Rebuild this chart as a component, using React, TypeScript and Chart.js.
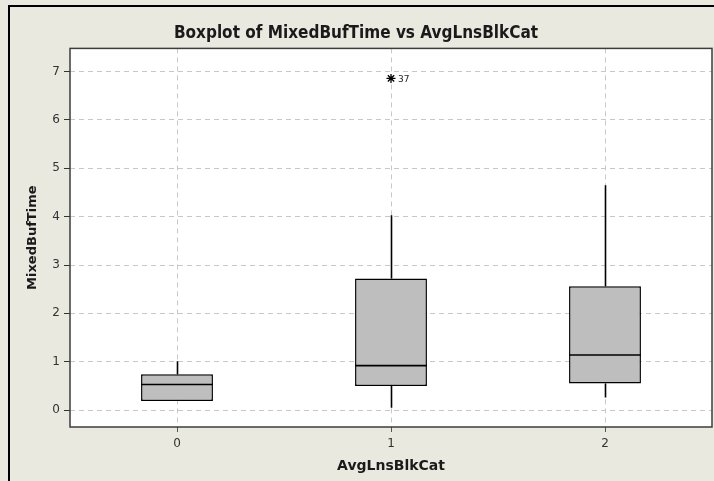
import React, { useEffect, useRef } from "react";
import { Chart, registerables } from "chart.js";

Chart.register(...registerables);

const categories = ["0", "1", "2"];
const q1 = [0.19, 0.5, 0.55];
const median = [0.53, 0.92, 1.14];
const q3 = [0.74, 2.72, 2.56];
const whiskerLow = [0.19, 0.05, 0.26];
const whiskerHigh = [1.01, 4.03, 4.65];
const outliers = [null, 6.86, null];
const outlierLabels = ["", "37", ""];
const yTicks = [0, 1, 2, 3, 4, 5, 6, 7];

const BEIGE = "#E9E9DF";
const FRAME = "#3c3c3c";

const boxPlugin = {
  id: "boxParts",
  beforeDraw(chart: any) {
    const { ctx, chartArea: a } = chart;
    ctx.save();
    ctx.fillStyle = BEIGE;
    ctx.fillRect(0, 0, chart.width, chart.height);
    ctx.fillStyle = "#ffffff";
    ctx.fillRect(a.left, a.top, a.right - a.left, a.bottom - a.top);
    ctx.fillStyle = "#000000";
    ctx.fillRect(8, 5, chart.width - 8, 2);
    ctx.fillRect(8, 5, 2, chart.height - 5);
    ctx.restore();
  },
  beforeDatasetsDraw(chart: any) {
    const { ctx, chartArea: a, scales } = chart;
    const x = scales.x;
    const y = scales.y;
    ctx.save();
    ctx.strokeStyle = FRAME;
    ctx.lineWidth = 1.5;
    ctx.strokeRect(a.left, a.top, a.right - a.left, a.bottom - a.top);
    ctx.strokeStyle = "#000000";
    ctx.lineWidth = 1.6;
    for (let i = 0; i < categories.length; i++) {
      const px = Math.round(x.getPixelForValue(i)) + 0.5;
      ctx.beginPath();
      ctx.moveTo(px, y.getPixelForValue(whiskerLow[i]));
      ctx.lineTo(px, y.getPixelForValue(q1[i]));
      ctx.moveTo(px, y.getPixelForValue(q3[i]));
      ctx.lineTo(px, y.getPixelForValue(whiskerHigh[i]));
      ctx.stroke();
    }
    ctx.restore();
  },
  afterDatasetsDraw(chart: any) {
    const { ctx, scales } = chart;
    const x = scales.x;
    const y = scales.y;
    const meta = chart.getDatasetMeta(0);
    ctx.save();
    ctx.strokeStyle = "#000000";
    ctx.lineWidth = 1.6;
    for (let i = 0; i < categories.length; i++) {
      const bar: any = meta.data[i];
      const half = bar.width / 2;
      const py = y.getPixelForValue(median[i]);
      ctx.beginPath();
      ctx.moveTo(bar.x - half, py);
      ctx.lineTo(bar.x + half, py);
      ctx.stroke();
      if (outliers[i] !== null && outlierLabels[i]) {
        ctx.fillStyle = "#222";
        ctx.font = "9px 'DejaVu Sans'";
        ctx.textBaseline = "middle";
        ctx.textAlign = "left";
        ctx.fillText(
          outlierLabels[i],
          x.getPixelForValue(i) + 7,
          y.getPixelForValue(outliers[i] as number) + 1
        );
      }
    }
    ctx.restore();
  },
};

export default function App() {
  const ref = useRef<HTMLCanvasElement>(null);
  useEffect(() => {
    if (!ref.current) return;
    const chart = new Chart(ref.current, {
      type: "bar",
      data: {
        labels: categories,
        datasets: [
          {
            type: "bar",
            label: "Box",
            data: q1.map((v, i) => [v, q3[i]]) as any,
            backgroundColor: "#BEBEBE",
            borderColor: "#000000",
            borderWidth: 1.5,
            borderSkipped: false,
            categoryPercentage: 1,
            barPercentage: 0.336,
          } as any,
          {
            type: "line",
            label: "Outliers",
            data: outliers as any,
            showLine: false,
            pointStyle: "star",
            pointRadius: 4.5,
            pointBorderColor: "#000000",
            pointBackgroundColor: "#000000",
            pointBorderWidth: 1.3,
          } as any,
        ],
      },
      options: {
        responsive: false,
        animation: false,
        layout: { autoPadding: false, padding: { left: 0, right: 2, top: 0, bottom: 0 } },
        plugins: {
          legend: { display: false },
          tooltip: { enabled: false },
          title: {
            display: true,
            text: "Boxplot of MixedBufTime vs AvgLnsBlkCat",
            color: "#1a1a1a",
            font: { family: "'DejaVu Sans Condensed', 'DejaVu Sans'", size: 17, weight: "bold" },
            padding: { top: 23, bottom: 5 },
          },
        },
        scales: {
          x: {
            type: "category",
            offset: true,
            grid: {
              offset: false,
              color: "#C8C8C8",
              lineWidth: 1,
              drawTicks: true,
              tickLength: 5,
              tickColor: "#555",
            },
            border: { display: false, dash: [5, 4] },
            ticks: {
              color: "#333",
              font: { family: "'DejaVu Sans'", size: 12 },
              padding: 5,
            },
            title: {
              display: true,
              text: "AvgLnsBlkCat",
              color: "#1a1a1a",
              font: { family: "'DejaVu Sans'", size: 14, weight: "bold" },
              padding: { top: 0, bottom: 6 },
            },
            afterFit(scale: any) {
              scale.height = 54;
            },
          },
          y: {
            type: "linear",
            min: -0.35,
            max: 7.48,
            afterBuildTicks(scale: any) {
              scale.ticks = yTicks.map((v) => ({ value: v }));
            },
            grid: {
              color: "#C8C8C8",
              lineWidth: 1,
              drawTicks: true,
              tickLength: 6,
              tickColor: "#333",
            },
            border: { display: false, dash: [5, 4] },
            ticks: {
              color: "#333",
              font: { family: "'DejaVu Sans'", size: 12 },
              padding: 4,
            },
            title: {
              display: true,
              text: "MixedBufTime",
              color: "#1a1a1a",
              font: { family: "'DejaVu Sans'", size: 13, weight: "bold" },
              padding: { top: 25, bottom: 0 },
            },
            afterFit(scale: any) {
              scale.width = 70;
            },
          },
        },
      },
      plugins: [boxPlugin],
    });
    return () => chart.destroy();
  }, []);
  return (
    <div style={{ position: "absolute", left: 0, top: 0, width: 714, height: 481 }}>
      <canvas ref={ref} width={714} height={481} style={{ display: "block" }} />
    </div>
  );
}
